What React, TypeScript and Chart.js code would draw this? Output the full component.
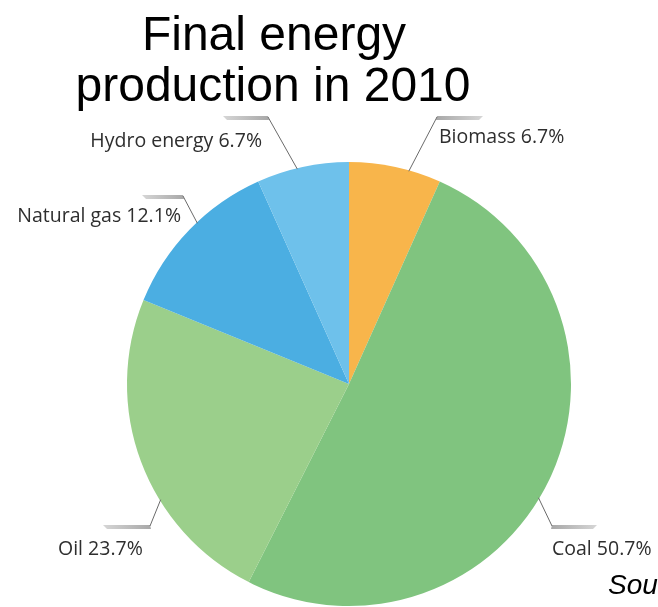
import React, { useEffect, useRef } from "react";
import { Chart, registerables } from "chart.js";

Chart.register(...registerables);

// ---- data ----
const categories = ["Biomass", "Coal", "Oil", "Natural gas", "Hydro energy"];
const shares = [6.7, 50.7, 23.7, 12.1, 6.7];
const sliceColors = ["#F8B54B", "#80C47F", "#9BCF8B", "#4BAEE2", "#6EC1EB"];
const titleLines = ["Final energy", "production in 2010"];
const sourceText = "Source";

// ---- label layout (styling / placement only) ----
type Layout = {
  tx: number;
  ty: number;
  align: CanvasTextAlign;
  bx1: number;
  bx2: number;
  by: number;
  joinX: number;
  frac: number;
};
const labelLayout: Layout[] = [
  { tx: 439, ty: 143, align: "left", bx1: 437, bx2: 483, by: 116, joinX: 437, frac: 0.65 },
  { tx: 552, ty: 555, align: "left", bx1: 552, bx2: 597, by: 525, joinX: 552, frac: 0.53 },
  { tx: 58, ty: 555, align: "left", bx1: 103, bx2: 150, by: 525, joinX: 150, frac: 0.37 },
  { tx: 181, ty: 222, align: "right", bx1: 142, bx2: 183, by: 195, joinX: 183, frac: 0.56 },
  { tx: 262, ty: 147, align: "right", bx1: 223, bx2: 268, by: 116, joinX: 268, frac: 0.44 },
];

const LABEL_FONT = '19.5px "Open Sans", "Noto Sans", sans-serif';
const TITLE_FONT = '48px "Liberation Sans", Arial, sans-serif';
const SOURCE_FONT = 'italic 28px "Liberation Sans", Arial, sans-serif';

const decorPlugin = {
  id: "decor",
  afterDraw(chart: any) {
    const ctx: CanvasRenderingContext2D = chart.ctx;
    const meta = chart.getDatasetMeta(0);
    ctx.save();

    // title
    ctx.fillStyle = "#000000";
    ctx.font = TITLE_FONT;
    ctx.textAlign = "center";
    ctx.textBaseline = "alphabetic";
    ctx.fillText(titleLines[0], 274, 50);
    ctx.fillText(titleLines[1], 273, 101);

    // source (cut off at the right edge)
    ctx.font = SOURCE_FONT;
    ctx.textAlign = "left";
    ctx.fillText(sourceText, 608, 594);

    // labels with leader lines
    meta.data.forEach((arc: any, i: number) => {
      const L = labelLayout[i];
      if (!L) return;
      const p = arc.getProps(["x", "y", "startAngle", "endAngle", "outerRadius"], true);
      const a = p.startAngle + L.frac * (p.endAngle - p.startAngle);
      const ex = p.x + (p.outerRadius - 1) * Math.cos(a);
      const ey = p.y + (p.outerRadius - 1) * Math.sin(a);

      // bar
      const outerIsLeft = L.joinX === L.bx2;
      const outerX = outerIsLeft ? L.bx1 : L.bx2;
      const grad = ctx.createLinearGradient(outerX, 0, L.joinX, 0);
      grad.addColorStop(0, "#d6d6d6");
      grad.addColorStop(1, "#a9a9a9");
      ctx.fillStyle = grad;
      ctx.beginPath();
      if (outerIsLeft) {
        ctx.moveTo(L.bx1, L.by);
        ctx.lineTo(L.bx2, L.by);
        ctx.lineTo(L.bx2 + 1, L.by + 4);
        ctx.lineTo(L.bx1 + 4, L.by + 4);
      } else {
        ctx.moveTo(L.bx1, L.by);
        ctx.lineTo(L.bx2, L.by);
        ctx.lineTo(L.bx2 - 4, L.by + 4);
        ctx.lineTo(L.bx1 - 1, L.by + 4);
      }
      ctx.closePath();
      ctx.fill();

      // leader line
      ctx.strokeStyle = "#6a6a6a";
      ctx.lineWidth = 1;
      ctx.beginPath();
      ctx.moveTo(L.joinX, L.by + 1);
      ctx.lineTo(ex, ey);
      ctx.stroke();

      // text
      ctx.fillStyle = "#2e2e2e";
      ctx.font = LABEL_FONT;
      ctx.textAlign = L.align;
      ctx.textBaseline = "alphabetic";
      ctx.fillText(`${categories[i]} ${shares[i].toFixed(1)}%`, L.tx, L.ty);
    });

    ctx.restore();
  },
};

export default function App() {
  const canvasRef = useRef<HTMLCanvasElement | null>(null);

  useEffect(() => {
    if (!canvasRef.current) return;
    const chart = new Chart(canvasRef.current, {
      type: "pie",
      data: {
        labels: categories,
        datasets: [
          {
            data: shares,
            backgroundColor: sliceColors,
            borderWidth: 0,
            hoverBorderWidth: 0,
            hoverOffset: 0,
            offset: 0,
          } as any,
        ],
      },
      options: {
        animation: false,
        responsive: true,
        maintainAspectRatio: false,
        events: [],
        layout: { padding: { left: 127, right: 87, top: 162, bottom: 1 } },
        plugins: {
          legend: { display: false },
          tooltip: { enabled: false },
          title: { display: false },
        },
      },
      plugins: [decorPlugin],
    });
    return () => chart.destroy();
  }, []);

  return (
    <div
      style={{
        position: "absolute",
        left: 0,
        top: 0,
        width: 658,
        height: 607,
        background: "#ffffff",
        overflow: "hidden",
      }}
    >
      <canvas ref={canvasRef} />
    </div>
  );
}
